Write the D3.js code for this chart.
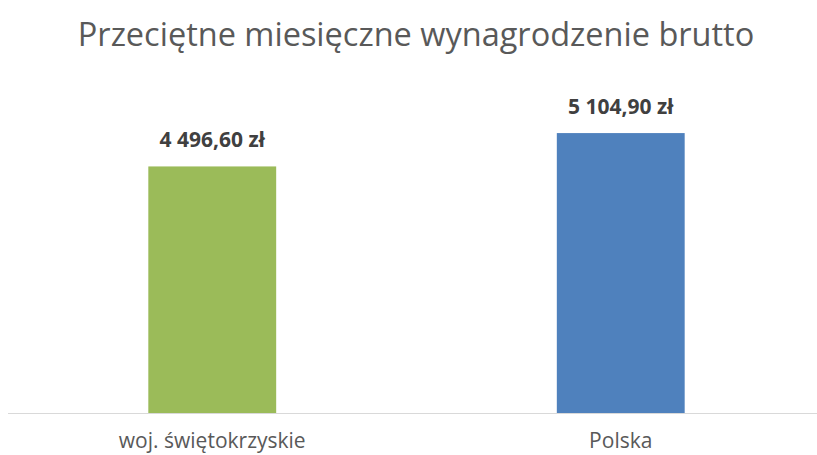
<!DOCTYPE html>
<html><head><meta charset="utf-8">
<script src="https://cdn.jsdelivr.net/npm/d3@7"></script>
<style>body{margin:0;background:#fff}svg{display:block}</style>
</head><body>
<script>
const title = "Przeciętne miesięczne wynagrodzenie brutto";
const categories = ["woj. świętokrzyskie", "Polska"];
const values = [4496.60, 5104.90];
const valueLabels = ["4 496,60 zł", "5 104,90 zł"];
const colors = ["#9BBB59", "#4F81BD"];

const W = 817, H = 455;
const svg = d3.select("body").append("svg").attr("width", W).attr("height", H);
const font = "'Open Sans', Calibri, sans-serif";

const x = d3.scaleBand().domain(categories).range([8, 825]).paddingInner(0.687).paddingOuter(0.3435);
const y = d3.scaleLinear().domain([0, 6000]).range([413, 84]);

// axis line
svg.append("line").attr("x1", 8).attr("x2", W).attr("y1", 413.5).attr("y2", 413.5)
  .attr("stroke", "#D9D9D9").attr("stroke-width", 1);

svg.selectAll("rect.bar").data(values).join("rect").attr("class", "bar")
  .attr("x", (d, i) => x(categories[i]))
  .attr("width", x.bandwidth())
  .attr("y", d => y(d))
  .attr("height", d => y(0) - y(d))
  .attr("fill", (d, i) => colors[i]);

svg.selectAll("text.val").data(values).join("text").attr("class", "val")
  .attr("x", (d, i) => x(categories[i]) + x.bandwidth() / 2)
  .attr("y", d => y(d) - 19)
  .attr("text-anchor", "middle")
  .style("font-family", font).style("font-weight", "bold").style("font-size", "21px")
  .attr("fill", "#404040")
  .text((d, i) => valueLabels[i]);

svg.selectAll("text.cat").data(categories).join("text").attr("class", "cat")
  .attr("x", d => x(d) + x.bandwidth() / 2)
  .attr("y", 448)
  .attr("text-anchor", "middle")
  .style("font-family", font).style("font-size", "21px")
  .attr("fill", "#595959")
  .text(d => d);

svg.append("text").attr("x", 416).attr("y", 46).attr("text-anchor", "middle")
  .style("font-family", font).style("font-size", "32.5px")
  .attr("fill", "#595959").text(title);
</script>
</body></html>
